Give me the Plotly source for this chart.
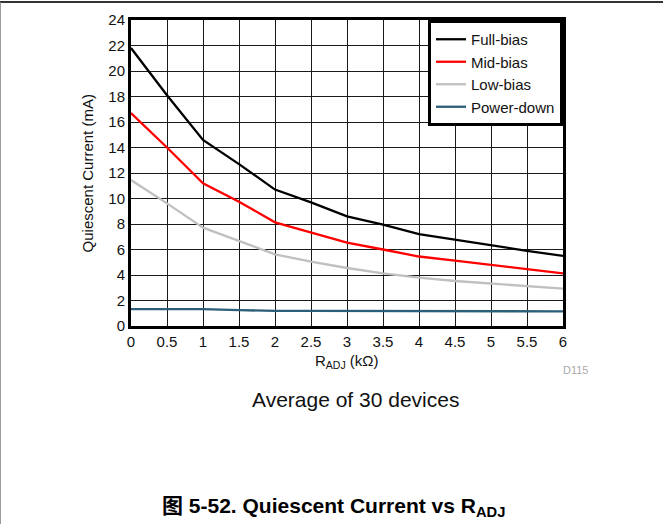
import plotly.graph_objects as go

# Quiescent current vs R_ADJ, averaged over 30 devices
r_adj = [0, 0.5, 1, 1.5, 2, 2.5, 3, 3.5, 4, 4.5, 5, 5.5, 6]
full_bias = [21.8, 18.1, 14.6, 12.7, 10.7, 9.7, 8.6, 7.95, 7.2, 6.75, 6.3, 5.9, 5.5]
mid_bias = [16.7, 14.0, 11.2, 9.75, 8.13, 7.32, 6.54, 6.0, 5.45, 5.12, 4.78, 4.47, 4.13]
low_bias = [11.45, 9.62, 7.71, 6.69, 5.62, 5.04, 4.55, 4.13, 3.79, 3.53, 3.35, 3.14, 2.93]
power_down = [1.33, 1.33, 1.32, 1.25, 1.18, 1.18, 1.17, 1.17, 1.16, 1.16, 1.17, 1.16, 1.15]

series_names = ["Full-bias", "Mid-bias", "Low-bias", "Power-down"]
series_values = [full_bias, mid_bias, low_bias, power_down]
series_colors = ["#000000", "#ff0000", "#c0c0c0", "#2b5f78"]

x_ticks = [0, 0.5, 1, 1.5, 2, 2.5, 3, 3.5, 4, 4.5, 5, 5.5, 6]
x_tick_text = ["0", "0.5", "1", "1.5", "2", "2.5", "3", "3.5", "4", "4.5", "5", "5.5", "6"]
y_ticks = list(range(0, 25, 2))

FONT = "Liberation Sans, Arial, Noto Sans CJK SC, sans-serif"

fig = go.Figure()
for name, vals, col in zip(series_names, series_values, series_colors):
    fig.add_trace(go.Scatter(x=r_adj, y=vals, name=name, mode="lines",
                             line=dict(color=col, width=2.3)))

axis_common = dict(showline=True, mirror=True, linecolor="#000000", linewidth=3,
                   showgrid=True, gridcolor="#1a1a1a", gridwidth=1,
                   zeroline=False, ticks="", tickfont=dict(family=FONT, size=15, color="#111111"))

fig.update_xaxes(range=[0, 6], tickvals=x_ticks, ticktext=x_tick_text, **axis_common)
fig.update_yaxes(range=[0, 24], tickvals=y_ticks, **axis_common)


def note(text, x, y, size, color="#111111", angle=0):
    return dict(text=text, x=x, y=y, xref="paper", yref="paper", showarrow=False,
                xanchor="center", yanchor="middle", textangle=angle,
                font=dict(size=size, color=color))


fig.update_layout(
    width=663, height=524, autosize=False,
    margin=dict(l=131, r=100, t=20, b=198),
    plot_bgcolor="white", paper_bgcolor="white",
    font=dict(family=FONT, color="#111111"),
    showlegend=True,
    legend=dict(x=1, xanchor="right", y=1, yanchor="top",
                bgcolor="white", bordercolor="#000000", borderwidth=3,
                font=dict(family=FONT, size=15, color="#111111"),
                tracegroupgap=0, itemwidth=30),
    annotations=[
        note("Quiescent Current (mA)", -0.1008, 0.5, 15, angle=-90),
        note("R<sub>ADJ</sub> (kΩ)", 0.4994, -0.1176, 15),
        note("D115", 1.028, -0.1438, 11, color="#aaaaaa"),
        note("Average of 30 devices", 0.520, -0.2386, 21),
        note("<b>图 5-52. Quiescent Current vs R<sub>ADJ</sub></b>", 0.469, -0.5915, 21, color="#000000"),
    ],
    shapes=[
        dict(type="line", xref="paper", yref="paper", x0=-131.5 / 431.5, x1=1 + 100 / 431.5,
             y0=(326 - 2) / 306, y1=(326 - 2) / 306, line=dict(color="#333333", width=2)),
        dict(type="line", xref="paper", yref="paper", x0=-131 / 431.5, x1=-131 / 431.5,
             y0=(326 - 2) / 306, y1=-198 / 306, line=dict(color="#888888", width=2)),
    ],
)

fig.write_html("out.html")
